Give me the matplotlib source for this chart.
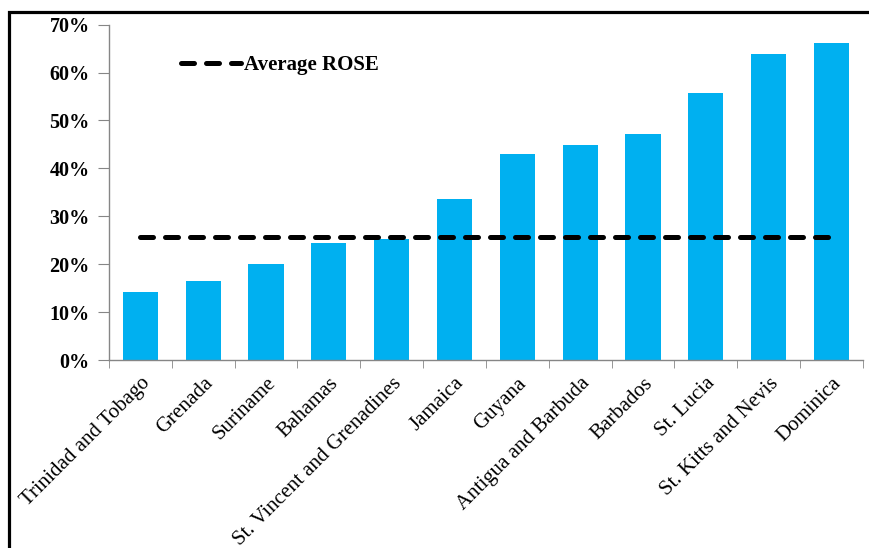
import matplotlib
matplotlib.use("Agg")
import matplotlib.pyplot as plt
from matplotlib.ticker import FuncFormatter, FixedLocator
from matplotlib.patches import Rectangle

countries = ["Trinidad and Tobago", "Grenada", "Suriname", "Bahamas",
             "St. Vincent and Grenadines", "Jamaica", "Guyana",
             "Antigua and Barbuda", "Barbados", "St. Lucia",
             "St. Kitts and Nevis", "Dominica"]
rose = [0.143, 0.166, 0.201, 0.244, 0.252, 0.336, 0.429, 0.449,
        0.472, 0.558, 0.638, 0.661]
average_rose = 0.257
y_ticks = [0, 0.1, 0.2, 0.3, 0.4, 0.5, 0.6, 0.7]

plt.rcParams['font.family'] = ['Liberation Serif', 'DejaVu Serif']

fig = plt.figure(figsize=(8.69, 5.48), dpi=100)
ax = fig.add_axes([0.1254, 0.343, 0.993 - 0.1254, 0.955 - 0.343])

x = list(range(len(countries)))
ax.bar(x, rose, width=0.56, color='#00B0F0', zorder=2)
ax.plot(x, [average_rose] * len(x), color='black', linewidth=3.6,
        linestyle=(0, (2.6, 2.4)), dash_capstyle='round', zorder=3,
        label='Average ROSE')

ax.set_xlim(-0.5, len(x) - 0.5)
ax.set_ylim(0, 0.7)
ax.set_yticks(y_ticks)
ax.yaxis.set_major_formatter(FuncFormatter(lambda v, p: f"{v*100:.0f}%"))
for lbl in ax.get_yticklabels():
    lbl.set_fontweight('bold')
    lbl.set_fontsize(14.5)
ax.tick_params(axis='y', length=8, color='#868686', pad=6)

ax.set_xticks(x)
ax.set_xticklabels(countries, rotation=45, ha='right', rotation_mode='anchor',
                   fontsize=15)
ax.tick_params(axis='x', which='major', length=0, pad=10)
ax.xaxis.set_minor_locator(FixedLocator([i - 0.5 for i in range(len(x) + 1)]))
ax.tick_params(axis='x', which='minor', length=6, color='#868686', direction='out')

for s in ['top', 'right']:
    ax.spines[s].set_visible(False)
for s in ['left', 'bottom']:
    ax.spines[s].set_color('#868686')
    ax.spines[s].set_linewidth(1.0)

leg = ax.legend(loc='upper left', bbox_to_anchor=(0.071, 0.965), frameon=False,
                handlelength=2.85, handletextpad=0.15,
                prop={'weight': 'bold', 'size': 15})

frame = Rectangle((8.5 / 869, -0.2), 1.2, 1 - 11.5 / 548 + 0.2,
                  transform=fig.transFigure, fill=False, edgecolor='black',
                  linewidth=2.3, clip_on=False)
fig.patches.append(frame)

fig.savefig('out.png', dpi=100)
